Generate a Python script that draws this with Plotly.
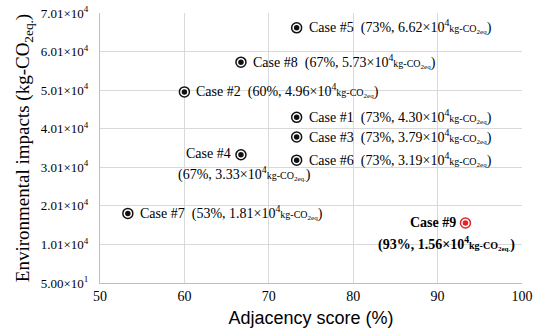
import plotly.graph_objects as go

cases = ["Case #1", "Case #2", "Case #3", "Case #4", "Case #5", "Case #6", "Case #7", "Case #8", "Case #9"]
adjacency = [73.3, 60.0, 73.3, 66.7, 73.3, 73.3, 53.3, 66.7, 93.3]
impacts = [4.30e4, 4.96e4, 3.79e4, 3.33e4, 6.62e4, 3.19e4, 1.81e4, 5.73e4, 1.56e4]
pct_labels = ["73%", "60%", "73%", "67%", "73%", "73%", "53%", "67%", "93%"]
val_labels = ["4.30", "4.96", "3.79", "3.33", "6.62", "3.19", "1.81", "5.73", "1.56"]
y_tickvals = [50, 10050, 20050, 30050, 40050, 50050, 60050, 70050]
y_ticktext = ["5.00×10<sup>1</sup>", "1.01×10<sup>4</sup>", "2.01×10<sup>4</sup>", "3.01×10<sup>4</sup>",
              "4.01×10<sup>4</sup>", "5.01×10<sup>4</sup>", "6.01×10<sup>4</sup>", "7.01×10<sup>4</sup>"]
x_tickvals = [50, 60, 70, 80, 90, 100]

SERIF = "Liberation Serif, Times New Roman, serif"
BLACK = "#111111"
RED = "#e0262b"

fig = go.Figure()
normal_idx = [i for i in range(9) if i != 8]
hi = [8]

fig.add_trace(go.Scatter(
    x=[adjacency[i] for i in normal_idx], y=[impacts[i] for i in normal_idx], mode="markers",
    marker=dict(size=10, color="white", line=dict(color=BLACK, width=1.5)), hoverinfo="skip", showlegend=False))
fig.add_trace(go.Scatter(
    x=[adjacency[i] for i in normal_idx], y=[impacts[i] for i in normal_idx], mode="markers",
    marker=dict(size=5.5, color=BLACK, line=dict(width=0)), text=[cases[i] for i in normal_idx], showlegend=False))
fig.add_trace(go.Scatter(
    x=[adjacency[i] for i in hi], y=[impacts[i] for i in hi], mode="markers",
    marker=dict(size=10, color="white", line=dict(color=RED, width=1.5)), hoverinfo="skip", showlegend=False))
fig.add_trace(go.Scatter(
    x=[adjacency[i] for i in hi], y=[impacts[i] for i in hi], mode="markers",
    marker=dict(size=5.5, color=RED, line=dict(width=0)), text=[cases[i] for i in hi], showlegend=False))

def unit(dot=False):
    return "<span style='font-size:10px'>kg-CO<sub>2eq%s</sub></span>" % ("." if dot else "")

FS = 14
for i in range(9):
    body = "(%s, %s×10<sup>4</sup>%s)" % (pct_labels[i], val_labels[i], unit(i in (3, 8)))
    if i == 3:
        fig.add_annotation(x=adjacency[i], y=impacts[i], text=cases[i], showarrow=False,
                           xanchor="right", xshift=-8, yshift=1, font=dict(family=SERIF, size=FS, color="black"))
        fig.add_annotation(x=adjacency[i], y=impacts[i], text=body, showarrow=False,
                           xanchor="center", xshift=4, yshift=-19, font=dict(family=SERIF, size=FS, color="black"))
    elif i == 8:
        fig.add_annotation(x=adjacency[i], y=impacts[i], text="<b>%s</b>" % cases[i], showarrow=False,
                           xanchor="right", xshift=-7, yshift=1, font=dict(family=SERIF, size=FS, color="black"))
        fig.add_annotation(x=adjacency[i], y=impacts[i], text="<b>%s</b>" % body, showarrow=False,
                           xanchor="center", xshift=-19, yshift=-20, font=dict(family=SERIF, size=FS, color="black"))
    else:
        fig.add_annotation(x=adjacency[i], y=impacts[i], text="%s  %s" % (cases[i], body), showarrow=False,
                           xanchor="left", xshift=10, yshift=1, font=dict(family=SERIF, size=FS, color="black"))

fig.update_layout(
    width=535, height=333, margin=dict(l=100, r=13, t=13, b=50),
    plot_bgcolor="white", paper_bgcolor="white",
    xaxis=dict(range=[50, 100], tickvals=x_tickvals, showgrid=True, gridcolor="#d9d9d9", gridwidth=1,
               zeroline=False, showline=True, linecolor="#bfbfbf", mirror=False, ticks="",
               ticklabeloverflow="allow", automargin=False,
               tickfont=dict(family=SERIF, size=14, color="black"),
               title=dict(text="Adjacency score (%)", font=dict(family="Liberation Sans, Arial, sans-serif", size=18, color="black"), standoff=8)),
    yaxis=dict(range=[50, 70050], tickvals=y_tickvals, ticktext=y_ticktext, showgrid=True, gridcolor="#d9d9d9",
               zeroline=False, showline=True, linecolor="#bfbfbf", ticks="", ticklabelstandoff=8, automargin=False,
               tickfont=dict(family=SERIF, size=13, color="black"),
               title=dict(text="Environmental impacts (kg-CO<sub>2eq.</sub>)", font=dict(family=SERIF, size=19, color="black"), standoff=6)),
)
fig.write_html("out.html")
